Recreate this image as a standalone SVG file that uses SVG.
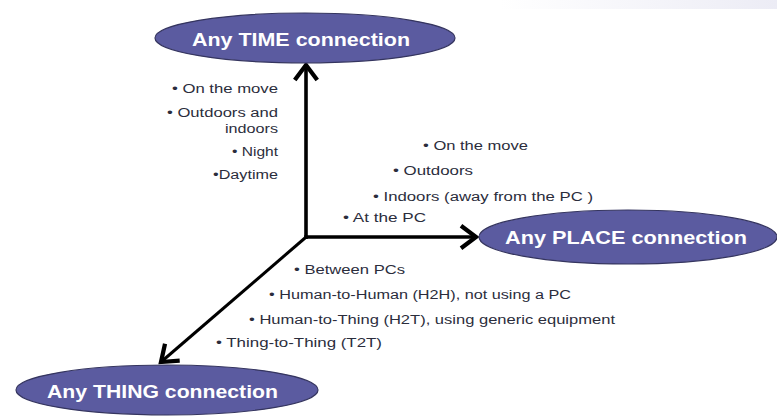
<svg xmlns="http://www.w3.org/2000/svg" width="777" height="416" viewBox="0 0 777 416">
  <style>
    .node ellipse { fill: #5b5ba0; stroke: #35355f; stroke-width: 1.2; }
    .title { font-family: "Liberation Sans", Arial, sans-serif; font-weight: bold; font-size: 19px; fill: #ffffff; }
    .item { font-family: "Liberation Sans", Arial, sans-serif; font-size: 12.5px; fill: #2b2d3c; }
    .conn line { stroke: #000000; stroke-width: 3.6; fill: none; }
  </style>
  <defs>
    <linearGradient id="band" x1="0" y1="0" x2="1" y2="0">
      <stop offset="0" stop-color="#ffffff"/>
      <stop offset="1" stop-color="#ececf5"/>
    </linearGradient>
    <marker id="chev" markerUnits="userSpaceOnUse" markerWidth="30" markerHeight="30" viewBox="-16 -12 20 24" refX="0" refY="0" orient="auto">
      <path d="M-12,-9 L0,0 L-12,9" fill="none" stroke="#000000" stroke-width="3.4"/>
    </marker>
  </defs>
  <rect x="0" y="0" width="777" height="416" fill="#ffffff"/>
  <rect x="500" y="0" width="277" height="9" fill="url(#band)"/>

  <g id="connectors" class="conn">
    <line x1="306" y1="239" x2="306" y2="65" marker-end="url(#chev)"/>
    <line x1="304.2" y1="237" x2="476" y2="237" marker-end="url(#chev)"/>
    <line x1="305" y1="238" x2="161" y2="362" style="stroke-width:3" marker-end="url(#chev)"/>
  </g>

  <g id="node-time" class="node">
    <ellipse cx="305" cy="38" rx="150" ry="25"/>
    <text class="title" x="192" y="46" textLength="218" lengthAdjust="spacingAndGlyphs">Any TIME connection</text>
  </g>
  <g id="node-place" class="node">
    <ellipse cx="628" cy="237" rx="149" ry="27"/>
    <text class="title" x="505" y="244" textLength="242" lengthAdjust="spacingAndGlyphs">Any PLACE connection</text>
  </g>
  <g id="node-thing" class="node">
    <ellipse cx="167" cy="390" rx="151" ry="25"/>
    <text class="title" x="47" y="398" textLength="231" lengthAdjust="spacingAndGlyphs">Any THING connection</text>
  </g>

  <g id="time-items">
    <text class="item" x="172" y="93" textLength="106" lengthAdjust="spacingAndGlyphs">• On the move</text>
    <text class="item" x="167" y="117" textLength="111" lengthAdjust="spacingAndGlyphs">• Outdoors and</text>
    <text class="item" x="225" y="133" textLength="53" lengthAdjust="spacingAndGlyphs">indoors</text>
    <text class="item" x="232" y="156" textLength="46" lengthAdjust="spacingAndGlyphs">• Night</text>
    <text class="item" x="213" y="179" textLength="65" lengthAdjust="spacingAndGlyphs">•Daytime</text>
  </g>
  <g id="place-items">
    <text class="item" x="423" y="150" textLength="105" lengthAdjust="spacingAndGlyphs">• On the move</text>
    <text class="item" x="393" y="175" textLength="80" lengthAdjust="spacingAndGlyphs">• Outdoors</text>
    <text class="item" x="373" y="201" textLength="220" lengthAdjust="spacingAndGlyphs">• Indoors (away from the PC )</text>
    <text class="item" x="343" y="222" textLength="83" lengthAdjust="spacingAndGlyphs">• At the PC</text>
  </g>
  <g id="thing-items">
    <text class="item" x="294" y="274" textLength="111" lengthAdjust="spacingAndGlyphs">• Between PCs</text>
    <text class="item" x="269" y="299" textLength="302" lengthAdjust="spacingAndGlyphs">• Human-to-Human (H2H), not using a PC</text>
    <text class="item" x="249" y="324" textLength="366" lengthAdjust="spacingAndGlyphs">• Human-to-Thing (H2T), using generic equipment</text>
    <text class="item" x="216" y="347" textLength="166" lengthAdjust="spacingAndGlyphs">• Thing-to-Thing (T2T)</text>
  </g>
</svg>
